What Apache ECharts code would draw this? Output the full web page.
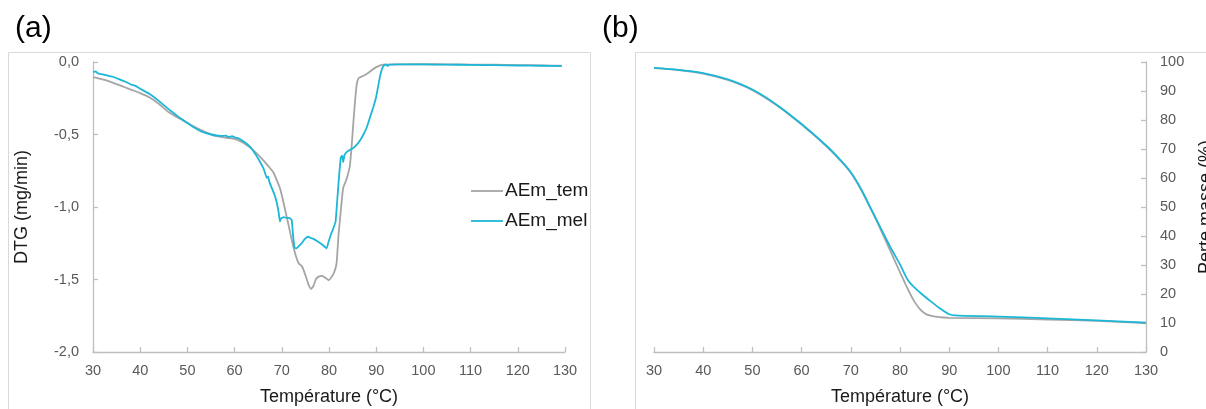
<!DOCTYPE html>
<html>
<head>
<meta charset="utf-8">
<script src="https://cdn.jsdelivr.net/npm/echarts@6/dist/echarts.min.js"></script>
<style>
html,body{margin:0;padding:0;background:#fff;}
#chart{width:1206px;height:409px;}
</style>
</head>
<body>
<div id="chart"></div>
<script>
// ---- data ----
var seriesNames = ['AEm_tem', 'AEm_mel'];
var xTicks = [30, 40, 50, 60, 70, 80, 90, 100, 110, 120, 130];
var dtgTicks = [-2.0, -1.5, -1.0, -0.5, 0.0];
var tgTicks = [0, 10, 20, 30, 40, 50, 60, 70, 80, 90, 100];

// (a) DTG (mg/min) vs temperature
var dtgTem = [
  [30,-0.105],[32,-0.12],[34,-0.14],[36,-0.165],[38,-0.19],[40,-0.215],[42,-0.245],[44,-0.29],
  [46,-0.345],[48,-0.385],[50,-0.42],[52,-0.455],[54,-0.485],[56,-0.51],[58,-0.522],[60,-0.53],
  [62,-0.56],[64,-0.61],[66,-0.675],[67.2,-0.72],[68.2,-0.76],[69,-0.82],[69.7,-0.88],[70.5,-0.99],
  [71.4,-1.12],[72.2,-1.24],[73,-1.34],[73.6,-1.39],[74.3,-1.41],[75,-1.47],[75.6,-1.53],[76.2,-1.565],
  [76.7,-1.545],[77.2,-1.50],[77.8,-1.48],[78.6,-1.475],[79.3,-1.49],[79.9,-1.505],[80.5,-1.485],
  [81.1,-1.45],[81.6,-1.39],[82,-1.2],[82.4,-1.06],[83,-0.87],[83.7,-0.81],[84.4,-0.72],[84.8,-0.58],
  [85.2,-0.40],[85.6,-0.24],[85.9,-0.15],[86.3,-0.11],[87.3,-0.095],[88.2,-0.078],[89,-0.058],
  [90,-0.035],[91.5,-0.018],[95,-0.016],[100,-0.015],[105,-0.016],[110,-0.018],[115,-0.019],
  [120,-0.021],[125,-0.023],[129.3,-0.026]
];
var dtgMel = [
  [30,-0.07],[30.6,-0.065],[31,-0.078],[32,-0.085],[33,-0.093],[34,-0.10],[35,-0.112],[36,-0.125],
  [37,-0.138],[38,-0.155],[39,-0.165],[40,-0.185],[42,-0.22],[44,-0.27],[46,-0.325],[48,-0.375],
  [50,-0.42],[51.6,-0.455],[53,-0.48],[55,-0.50],[57,-0.51],[58.2,-0.508],[58.7,-0.518],[59.5,-0.512],
  [60.2,-0.522],[60.8,-0.526],[62,-0.55],[63.3,-0.585],[64.5,-0.64],[65.4,-0.69],[66.2,-0.74],
  [66.8,-0.80],[67.1,-0.79],[67.4,-0.83],[67.9,-0.87],[68.5,-0.92],[68.9,-0.965],[69.3,-1.03],
  [69.6,-1.10],[69.8,-1.08],[70.4,-1.07],[71.0,-1.075],[71.6,-1.075],[72.1,-1.09],[72.4,-1.2],
  [72.7,-1.28],[73.1,-1.285],[73.6,-1.27],[74.2,-1.25],[74.9,-1.22],[75.6,-1.205],[76.2,-1.215],
  [76.7,-1.22],[77.7,-1.24],[78.6,-1.26],[79.5,-1.285],[79.9,-1.24],[80.4,-1.19],[81.0,-1.14],
  [81.4,-1.10],[81.8,-0.93],[82.1,-0.80],[82.5,-0.66],[82.8,-0.645],[83.0,-0.69],[83.3,-0.64],
  [83.8,-0.62],[84.5,-0.605],[85.1,-0.595],[85.9,-0.57],[86.6,-0.54],[87.3,-0.50],[88,-0.45],
  [88.7,-0.38],[89.4,-0.31],[90,-0.24],[90.4,-0.17],[90.8,-0.10],[91.2,-0.05],[91.6,-0.025],
  [92,-0.016],[92.4,-0.028],[92.8,-0.018],[95,-0.017],[100,-0.017],[105,-0.018],[110,-0.02],
  [115,-0.022],[120,-0.024],[125,-0.026],[129.3,-0.028]
];

// (b) Perte masse (%) vs temperature
var tgTem = [
  [30,97.9],[35,97.2],[40,96.0],[45,93.8],[50,90.3],[55,85.0],[60,78.4],[65,71.0],[68,65.8],
  [70,61.8],[72,56.2],[74,49.5],[76,42.5],[78,35.0],[80,27.5],[82,20.3],[83,17.2],[84,14.9],
  [85,13.4],[86,12.6],[88,12.0],[90,11.8],[100,11.6],[110,11.2],[120,10.7],[130,10.0]
];
var tgMel = [
  [30,98.0],[35,97.3],[40,96.2],[45,94.0],[50,90.5],[55,85.2],[60,78.6],[65,71.2],[68,66.0],
  [70,62.0],[72,56.5],[74,49.8],[76,43.0],[78,36.3],[80,30.2],[81.8,24.3],[84,20.6],[86,17.8],
  [88,15.2],[90,13.0],[91,12.6],[100,12.2],[110,11.6],[120,10.9],[130,10.1]
];

// ---- chart ----
var FONT = "'Liberation Sans', Arial, sans-serif";
var GRAY = '#a5a5a5', BLUE = '#1cb7d8';
var AXIS = '#bfbfbf';
var chart = echarts.init(document.getElementById('chart'), null, {renderer: 'canvas'});

function xAxisCfg(idx) {
  return {
    type: 'value', gridIndex: idx, min: xTicks[0], max: xTicks[xTicks.length - 1],
    interval: xTicks[1] - xTicks[0],
    name: 'Température (°C)', nameLocation: 'middle', nameGap: 36,
    nameTextStyle: {fontSize: 18, color: '#1a1a1a', fontFamily: FONT},
    axisLine: {show: true, onZero: false, lineStyle: {color: AXIS, width: 1.3}},
    axisTick: {show: true, inside: true, length: 5, lineStyle: {color: AXIS, width: 1.3}},
    axisLabel: {fontSize: 14.5, color: '#595959', margin: 11, fontFamily: FONT},
    splitLine: {show: false}
  };
}

var option = {
  animation: false,
  textStyle: {fontFamily: FONT},
  grid: [
    {left: 93, right: 641, top: 62, bottom: 57, containLabel: false, outerBoundsMode: 'none'},
    {left: 654, right: 60, top: 62, bottom: 57, containLabel: false, outerBoundsMode: 'none'}
  ],
  xAxis: [xAxisCfg(0), xAxisCfg(1)],
  yAxis: [
    {
      type: 'value', gridIndex: 0, min: dtgTicks[0], max: dtgTicks[dtgTicks.length - 1],
      interval: dtgTicks[1] - dtgTicks[0],
      name: 'DTG (mg/min)', nameLocation: 'middle', nameGap: 62, nameRotate: 90,
      nameTextStyle: {fontSize: 18, color: '#1a1a1a', fontFamily: FONT},
      axisLine: {show: true, onZero: false, lineStyle: {color: AXIS, width: 1.3}},
      axisTick: {show: true, inside: true, length: 5, lineStyle: {color: AXIS, width: 1.3}},
      axisLabel: {fontSize: 14.5, color: '#595959', margin: 14, fontFamily: FONT,
        formatter: function (v) { return v.toFixed(1).replace('.', ','); }},
      splitLine: {show: false}
    },
    {
      type: 'value', gridIndex: 1, position: 'right', min: tgTicks[0], max: tgTicks[tgTicks.length - 1],
      interval: tgTicks[1] - tgTicks[0],
      name: 'Perte masse (%)', nameLocation: 'middle', nameGap: 51, nameRotate: 90,
      nameTextStyle: {fontSize: 18, color: '#1a1a1a', fontFamily: FONT},
      axisLine: {show: true, onZero: false, lineStyle: {color: AXIS, width: 1.3}},
      axisTick: {show: true, inside: true, length: 5, lineStyle: {color: AXIS, width: 1.3}},
      axisLabel: {fontSize: 14.5, color: '#595959', margin: 14, fontFamily: FONT},
      splitLine: {show: false}
    }
  ],
  legend: {
    data: seriesNames, orient: 'vertical', left: 466, top: 176,
    icon: 'rect', itemWidth: 32, itemHeight: 1.8, itemGap: 10,
    textStyle: {fontSize: 19, color: '#1a1a1a', fontFamily: FONT, padding: [0, 0, 0, -3], lineHeight: 20}
  },
  graphic: [
    {type: 'rect', shape: {x: 8.5, y: 52.5, width: 582, height: 420}, style: {fill: 'none', stroke: '#d9d9d9', lineWidth: 1}, silent: true},
    {type: 'rect', shape: {x: 635.5, y: 52.5, width: 620, height: 420}, style: {fill: 'none', stroke: '#d9d9d9', lineWidth: 1}, silent: true},
    {type: 'text', left: 15, top: 14, style: {text: '(a)', fontSize: 30, fill: '#000', fontFamily: FONT}},
    {type: 'text', left: 602, top: 14, style: {text: '(b)', fontSize: 30, fill: '#000', fontFamily: FONT}}
  ],
  series: [
    {name: seriesNames[0], type: 'line', xAxisIndex: 0, yAxisIndex: 0, data: dtgTem, symbol: 'none', smooth: 0.15,
      lineStyle: {color: GRAY, width: 1.8}, itemStyle: {color: GRAY}, z: 2},
    {name: seriesNames[1], type: 'line', xAxisIndex: 0, yAxisIndex: 0, data: dtgMel, symbol: 'none', smooth: 0.1,
      lineStyle: {color: BLUE, width: 1.8}, itemStyle: {color: BLUE}, z: 3},
    {name: seriesNames[0], type: 'line', xAxisIndex: 1, yAxisIndex: 1, data: tgTem, symbol: 'none', smooth: 0.3,
      lineStyle: {color: GRAY, width: 1.8}, itemStyle: {color: GRAY}, z: 2},
    {name: seriesNames[1], type: 'line', xAxisIndex: 1, yAxisIndex: 1, data: tgMel, symbol: 'none', smooth: 0.3,
      lineStyle: {color: BLUE, width: 1.8}, itemStyle: {color: BLUE}, z: 3}
  ]
};
chart.setOption(option);
</script>
</body>
</html>
